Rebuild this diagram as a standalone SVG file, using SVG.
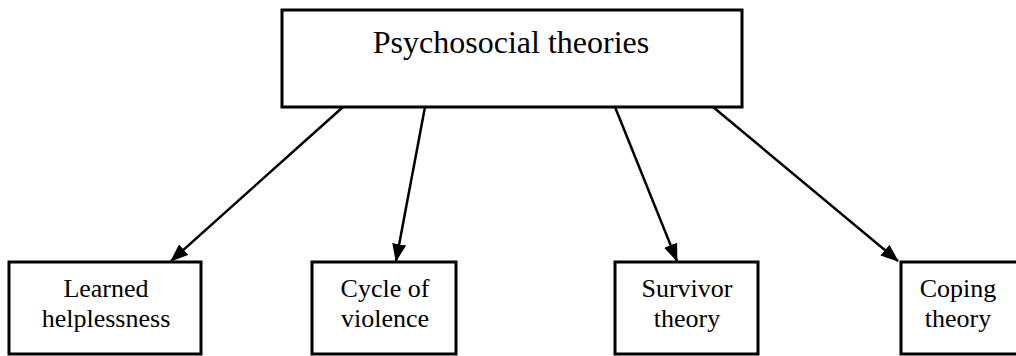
<svg xmlns="http://www.w3.org/2000/svg" width="1016" height="356" viewBox="0 0 1016 356">
<style>
.box{fill:#fff;stroke:#000;stroke-width:3}
.t{font-family:"Liberation Serif","Times New Roman",serif;fill:#000;text-anchor:middle}
.big{font-size:32px}
.sm{font-size:26px}
.edge{stroke:#000;stroke-width:2.5;fill:none;marker-end:url(#ah)}
</style>
<defs>
<marker id="ah" markerWidth="18" markerHeight="14" refX="17" refY="7" orient="auto" markerUnits="userSpaceOnUse">
<path d="M0,0 L18,7 L0,14 Z" fill="#000"/>
</marker>
</defs>
<rect width="1016" height="356" fill="#fff"/>
<g id="connectors">
<line class="edge" x1="343" y1="107" x2="171" y2="261"/>
<line class="edge" x1="425" y1="107" x2="396" y2="261"/>
<line class="edge" x1="615" y1="107" x2="677" y2="261"/>
<line class="edge" x1="713" y1="107" x2="898" y2="261"/>
</g>
<g id="root">
<rect class="box" x="282" y="10" width="460" height="97"/>
<text class="t big" x="511" y="53">Psychosocial theories</text>
</g>
<g id="learned">
<rect class="box" x="9" y="262" width="192" height="92"/>
<text class="t sm" x="106" y="297">Learned</text>
<text class="t sm" x="106" y="327">helplessness</text>
</g>
<g id="cycle">
<rect class="box" x="312" y="262" width="144" height="92"/>
<text class="t sm" x="385" y="297">Cycle of</text>
<text class="t sm" x="385" y="327">violence</text>
</g>
<g id="survivor">
<rect class="box" x="615" y="262" width="143" height="92"/>
<text class="t sm" x="687" y="297">Survivor</text>
<text class="t sm" x="687" y="327">theory</text>
</g>
<g id="coping">
<rect class="box" x="901" y="262" width="130" height="92"/>
<text class="t sm" x="958" y="297">Coping</text>
<text class="t sm" x="958" y="327">theory</text>
</g>
</svg>
